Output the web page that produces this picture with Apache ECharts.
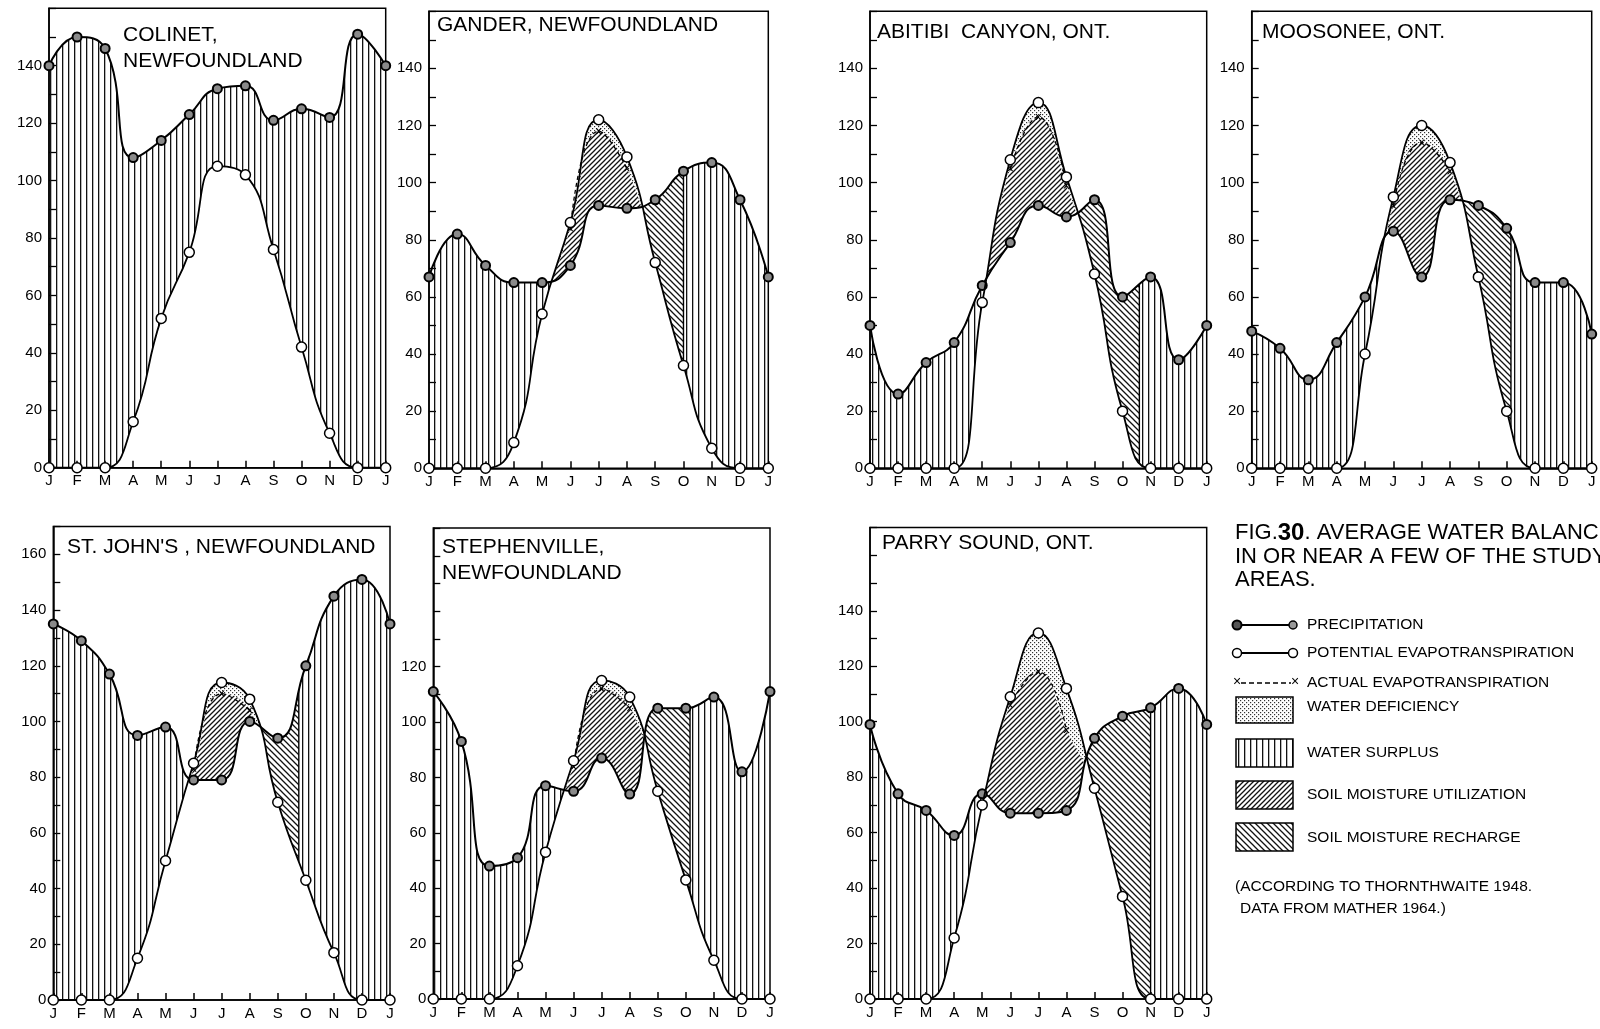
<!DOCTYPE html>
<html><head><meta charset="utf-8">
<script src="https://cdn.jsdelivr.net/npm/echarts@6/dist/echarts.min.js"></script>
<style>html,body{margin:0;padding:0;background:#fff}#c{width:1600px;height:1029px}</style>
</head><body><div id="c"></div>
<script>
const months = ['J','F','M','A','M','J','J','A','S','O','N','D','J'];

// Precipitation (P), potential evapotranspiration (PE), actual evapotranspiration (AE, only where below PE), mm
const colinetP  = [140,150,146,108,114,123,132,133,121,125,122,151,140];
const colinetPE = [0,0,0,16,52,75,105,102,76,42,12,0,0];
const colinetAE = [null,null,null,null,null,null,null,null,null,null,null,null,null];

const ganderP  = [67,82,71,65,65,71,92,91,94,104,107,94,67];
const ganderPE = [0,0,0,9,54,86,122,109,72,36,7,0,0];
const ganderAE = [null,null,null,null,null,84,118,105,null,null,null,null,null];

const abitibiP  = [50,26,37,44,64,79,92,88,94,60,67,38,50];
const abitibiPE = [0,0,0,0,58,108,128,102,68,20,0,0,0];
const abitibiAE = [null,null,null,null,null,105,123,99,null,null,null,null,null];

const moosoneeP  = [48,42,31,44,60,83,67,94,92,84,65,65,47];
const moosoneePE = [0,0,0,0,40,95,120,107,67,20,0,0,0];
const moosoneeAE = [null,null,null,null,null,92,114,104,null,null,null,null,null];

const stjohnsP  = [135,129,117,95,98,79,79,100,94,120,145,151,135];
const stjohnsPE = [0,0,0,15,50,85,114,108,71,43,17,0,0];
const stjohnsAE = [null,null,null,null,null,83,110,104,null,null,null,null,null];

const stephP  = [111,93,48,51,77,75,87,74,105,105,109,82,111];
const stephPE = [0,0,0,12,53,86,115,109,75,43,14,0,0];
const stephAE = [null,null,null,null,null,84,112,105,null,null,null,null,null];

const parryP  = [99,74,68,59,74,67,67,68,94,102,105,112,99];
const parryPE = [0,0,0,22,70,109,132,112,76,37,0,0,0];
const parryAE = [null,null,null,null,null,106,118,97,null,null,null,null,null];

// soil moisture recharge period (month positions: start, end where soil is full)
const ganderRecharge   = [7, 9];
const abitibiRecharge  = [7, 9.6];
const moosoneeRecharge = [7, 9.15];
const stjohnsRecharge  = [7, 8.75];
const stephRecharge    = [7, 9.15];
const parryRecharge    = [7, 10];

const stations = [
  {name:'COLINET,\nNEWFOUNDLAND', P:colinetP, PE:colinetPE, AE:colinetAE, recharge:null, yMax:160, labelMax:140},
  {name:'GANDER, NEWFOUNDLAND', P:ganderP, PE:ganderPE, AE:ganderAE, recharge:ganderRecharge, yMax:160, labelMax:140},
  {name:'ABITIBI  CANYON, ONT.', P:abitibiP, PE:abitibiPE, AE:abitibiAE, recharge:abitibiRecharge, yMax:160, labelMax:140},
  {name:'MOOSONEE, ONT.', P:moosoneeP, PE:moosoneePE, AE:moosoneeAE, recharge:moosoneeRecharge, yMax:160, labelMax:140},
  {name:"ST. JOHN'S , NEWFOUNDLAND", P:stjohnsP, PE:stjohnsPE, AE:stjohnsAE, recharge:stjohnsRecharge, yMax:170, labelMax:160},
  {name:'STEPHENVILLE,\nNEWFOUNDLAND', P:stephP, PE:stephPE, AE:stephAE, recharge:stephRecharge, yMax:170, labelMax:120},
  {name:'PARRY SOUND, ONT.', P:parryP, PE:parryPE, AE:parryAE, recharge:parryRecharge, yMax:170, labelMax:140}
];

const layout = [
  {left:49, top:8.3, width:336.7, height:459.4, tx:123, ty:22},
  {left:429, top:11.2, width:339.3, height:457.1, tx:437, ty:12},
  {left:870, top:11.2, width:336.7, height:457.1, tx:877, ty:19},
  {left:1251.7, top:11.2, width:340, height:457.1, tx:1262, ty:19},
  {left:53.3, top:526.5, width:336.7, height:473.5, tx:67, ty:534},
  {left:433.3, top:528.1, width:336.7, height:470.9, tx:442, ty:534},
  {left:870, top:527.6, width:336.7, height:471.4, tx:882, ty:530}
];

const FONT = 'Liberation Sans';

function makePattern(kind) {
  const c = document.createElement('canvas');
  let s;
  if (kind === 'surplus') {
    s = 6; c.width = s; c.height = s;
    const g = c.getContext('2d'); g.fillStyle = '#111'; g.fillRect(2, 0, 1.3, s);
  } else if (kind === 'util' || kind === 'recharge') {
    s = kind === 'util' ? 5 : 6; c.width = s; c.height = s;
    const g = c.getContext('2d'); g.strokeStyle = '#111'; g.lineWidth = 1.3; g.beginPath();
    if (kind === 'util') {
      g.moveTo(0, s); g.lineTo(s, 0); g.moveTo(-1, 1); g.lineTo(1, -1); g.moveTo(s - 1, s + 1); g.lineTo(s + 1, s - 1);
    } else {
      g.moveTo(0, 0); g.lineTo(s, s); g.moveTo(-1, s - 1); g.lineTo(1, s + 1); g.moveTo(s - 1, -1); g.lineTo(s + 1, 1);
    }
    g.stroke();
  } else {
    s = 4; c.width = s; c.height = s;
    const g = c.getContext('2d'); g.fillStyle = '#333';
    g.fillRect(0, 0, 1.2, 1.2); g.fillRect(2, 2, 1.2, 1.2);
  }
  return {image: c, repeat: 'repeat'};
}
const PAT = {surplus: makePattern('surplus'), util: makePattern('util'), recharge: makePattern('recharge'), deficit: makePattern('deficit')};

// replicate ECharts smooth line (smooth = 0.5) to get area boundaries
function smoothSegs(pts, smooth) {
  const segs = [];
  let cpx0, cpy0, prevX, prevY;
  const n = pts.length;
  for (let idx = 0; idx < n; idx++) {
    const x = pts[idx][0], y = pts[idx][1];
    if (idx === 0) { cpx0 = x; cpy0 = y; }
    else {
      let cpx1, cpy1, nextCpx0, nextCpy0;
      if (idx === n - 1) { cpx1 = x; cpy1 = y; }
      else {
        const nextX = pts[idx + 1][0], nextY = pts[idx + 1][1];
        let vx = nextX - prevX, vy = nextY - prevY;
        const dx0 = x - prevX, dx1 = nextX - x, dy0 = y - prevY, dy1 = nextY - y;
        const lenPrev = Math.sqrt(dx0 * dx0 + dy0 * dy0), lenNext = Math.sqrt(dx1 * dx1 + dy1 * dy1);
        const ratio = lenNext / (lenNext + lenPrev);
        nextCpx0 = x + vx * smooth * ratio;
        nextCpy0 = y + vy * smooth * ratio;
        nextCpx0 = Math.min(nextCpx0, Math.max(nextX, x));
        nextCpy0 = Math.min(nextCpy0, Math.max(nextY, y));
        nextCpx0 = Math.max(nextCpx0, Math.min(nextX, x));
        nextCpy0 = Math.max(nextCpy0, Math.min(nextY, y));
        vx = nextCpx0 - x; vy = nextCpy0 - y;
        cpx1 = x - vx * lenPrev / lenNext;
        cpy1 = y - vy * lenPrev / lenNext;
        cpx1 = Math.min(cpx1, Math.max(prevX, x));
        cpy1 = Math.min(cpy1, Math.max(prevY, y));
        cpx1 = Math.max(cpx1, Math.min(prevX, x));
        cpy1 = Math.max(cpy1, Math.min(prevY, y));
        vx = x - cpx1; vy = y - cpy1;
        nextCpx0 = x + vx * lenNext / lenPrev;
        nextCpy0 = y + vy * lenNext / lenPrev;
      }
      segs.push([[prevX, prevY], [cpx0, cpy0], [cpx1, cpy1], [x, y]]);
      cpx0 = nextCpx0; cpy0 = nextCpy0;
    }
    prevX = x; prevY = y;
  }
  return segs;
}
function sampleCurve(pts) {
  const out = [pts[0]];
  smoothSegs(pts, 0.5).forEach(function (sg) {
    const p0 = sg[0], c0 = sg[1], c1 = sg[2], p1 = sg[3];
    for (let k = 1; k <= 40; k++) {
      const t = k / 40, u = 1 - t;
      out.push([u*u*u*p0[0] + 3*u*u*t*c0[0] + 3*u*t*t*c1[0] + t*t*t*p1[0],
                u*u*u*p0[1] + 3*u*u*t*c0[1] + 3*u*t*t*c1[1] + t*t*t*p1[1]]);
    }
  });
  return out;
}
function yAt(poly, x) {
  let lo = 0, hi = poly.length - 1;
  if (x <= poly[0][0]) return poly[0][1];
  if (x >= poly[hi][0]) return poly[hi][1];
  while (hi - lo > 1) { const m = (lo + hi) >> 1; if (poly[m][0] <= x) lo = m; else hi = m; }
  const a = poly[lo], b = poly[hi], dx = b[0] - a[0];
  return dx <= 1e-9 ? a[1] : a[1] + (b[1] - a[1]) * (x - a[0]) / dx;
}

function makeRender(st) {
  return function (params, api) {
    const pP = st.P.map(function (v, i) { return api.coord([i, v]); });
    const pE = st.PE.map(function (v, i) { return api.coord([i, v]); });
    const pA = st.AE.map(function (v, i) { return api.coord([i, v == null ? st.PE[i] : v]); });
    const cP = sampleCurve(pP), cE = sampleCurve(pE), cA = sampleCurve(pA);
    const yP = function (x) { return yAt(cP, x); };
    const yE = function (x) { return yAt(cE, x); };
    const yA = function (x) { return yAt(cA, x); };
    const xAt = function (m) {
      const i = Math.min(11, Math.floor(m)), f = m - i;
      return pP[i][0] + (pP[i + 1][0] - pP[i][0]) * f;
    };
    const X0 = pP[0][0], X1 = pP[12][0];
    const children = [];
    function band(a, b, top, bot, fill) {
      const n = Math.max(2, Math.ceil((b - a) / 0.6));
      const T = [], B = [];
      for (let k = 0; k <= n; k++) {
        const x = a + (b - a) * k / n;
        T.push([x, top(x)]); B.push([x, bot(x)]);
      }
      children.push({type: 'polygon', silent: true, shape: {points: T.concat(B.reverse())}, style: {fill: fill, stroke: null}});
    }
    const surTop = yP, surBot = function (x) { return Math.max(yP(x), yE(x)); };
    if (st.recharge) {
      const rs = xAt(st.recharge[0]), re = xAt(st.recharge[1]);
      band(X0, rs, surTop, surBot, PAT.surplus);
      band(rs, re, surTop, surBot, PAT.recharge);
      band(re, X1, surTop, surBot, PAT.surplus);
      children.push({type: 'line', silent: true, shape: {x1: re, y1: yE(re), x2: re, y2: yP(re)}, style: {stroke: '#000', lineWidth: 1.4}});
    } else {
      band(X0, X1, surTop, surBot, PAT.surplus);
    }
    band(X0, X1, function (x) { return Math.min(yP(x), Math.max(yA(x), yE(x))); }, yP, PAT.util);
    band(X0, X1, function (x) { return Math.min(yE(x), yA(x), yP(x)); }, function (x) { return Math.min(yA(x), yP(x)); }, PAT.deficit);
    return {type: 'group', children: children};
  };
}

const grids = [], xAxes = [], yAxes = [], series = [], titles = [];
stations.forEach(function (st, g) {
  const L = layout[g];
  grids.push({left: L.left, top: L.top, width: L.width, height: L.height, show: true, borderColor: '#000', borderWidth: 1.5, backgroundColor: 'transparent'});
  xAxes.push({gridIndex: g, type: 'value', min: 0, max: 12, interval: 1,
    axisLine: {show: true, lineStyle: {color: '#000', width: 1.5}},
    axisTick: {show: true, inside: true, length: 7, lineStyle: {color: '#000', width: 1.5}},
    axisLabel: {formatter: function (v) { return months[v] || ''; }, color: '#000', fontSize: 15, margin: 6, fontFamily: FONT},
    splitLine: {show: false}});
  yAxes.push({gridIndex: g, type: 'value', min: 0, max: st.yMax, interval: 10,
    axisLine: {show: true, lineStyle: {color: '#000', width: 1.5}},
    axisTick: {show: true, inside: true, length: 7, lineStyle: {color: '#000', width: 1.3}},
    axisLabel: {formatter: function (v) { return (v % 20 === 0 && v <= st.labelMax) ? String(v) : ''; }, color: '#000', fontSize: 15, margin: 7, fontFamily: FONT},
    splitLine: {show: false}});
  titles.push({text: st.name, left: L.tx, top: L.ty, padding: 0,
    textStyle: {fontSize: 21, fontWeight: 'normal', color: '#000', fontFamily: FONT, lineHeight: 26}});
  series.push({type: 'custom', xAxisIndex: g, yAxisIndex: g, data: [[0, 0]], renderItem: makeRender(st), z: 1, silent: true, clip: false});
  series.push({type: 'line', name: 'AE', xAxisIndex: g, yAxisIndex: g, z: 2, smooth: true, clip: false, silent: true,
    data: st.AE.map(function (v, i) { return [i, v]; }),
    symbol: 'path://M0,0L2,0L5,3L8,0L10,0L6,5L10,10L8,10L5,7L2,10L0,10L4,5Z', symbolSize: 6,
    itemStyle: {color: '#000'}, lineStyle: {color: '#000', width: 1.3, type: [4, 3]}, emphasis: {disabled: true}});
  series.push({type: 'line', name: 'P', xAxisIndex: g, yAxisIndex: g, z: 3, smooth: true, clip: false, silent: true,
    data: st.P.map(function (v, i) { return [i, v]; }), showSymbol: true,
    symbol: 'circle', symbolSize: 9, itemStyle: {color: '#8a8a8a', borderColor: '#000', borderWidth: 2},
    lineStyle: {color: '#000', width: 2}, emphasis: {disabled: true}});
  series.push({type: 'line', name: 'PE', xAxisIndex: g, yAxisIndex: g, z: 4, smooth: true, clip: false, silent: true,
    data: st.PE.map(function (v, i) { return [i, v]; }), showSymbol: true,
    symbol: 'circle', symbolSize: 10, itemStyle: {color: '#fff', borderColor: '#000', borderWidth: 1.5},
    lineStyle: {color: '#000', width: 1.8}, emphasis: {disabled: true}});
});

const lx0 = 1237, lx1 = 1293, tx = 1307;
const tf = {fontSize: 15.5, fontFamily: FONT, fill: '#000', verticalAlign: 'middle', align: 'left'};
function txt(x, y, s, extra) { return {type: 'text', x: x, y: y, silent: true, style: Object.assign({text: s}, tf, extra || {})}; }
const graphic = [
  {type: 'text', x: 1235, y: 533, silent: true, style: {text: '{a|FIG.}{b|30}{a|. AVERAGE WATER BALANCE}', verticalAlign: 'middle', fill: '#000',
    rich: {a: {fontSize: 22, fontFamily: FONT, fill: '#000'}, b: {fontSize: 24, fontWeight: 'bold', fontFamily: FONT, fill: '#000'}}}},
  txt(1235, 557, 'IN OR NEAR A FEW OF THE STUDY', {fontSize: 22}),
  txt(1235, 580, 'AREAS.', {fontSize: 22}),
  {type: 'line', silent: true, shape: {x1: lx0, y1: 625, x2: lx1, y2: 625}, style: {stroke: '#000', lineWidth: 1.8}},
  {type: 'circle', silent: true, shape: {cx: lx0, cy: 625, r: 4.5}, style: {fill: '#555', stroke: '#000', lineWidth: 2}},
  {type: 'circle', silent: true, shape: {cx: lx1, cy: 625, r: 4}, style: {fill: '#999', stroke: '#000', lineWidth: 1.5}},
  txt(tx, 625, 'PRECIPITATION'),
  {type: 'line', silent: true, shape: {x1: lx0, y1: 653, x2: lx1, y2: 653}, style: {stroke: '#000', lineWidth: 1.8}},
  {type: 'circle', silent: true, shape: {cx: lx0, cy: 653, r: 4.5}, style: {fill: '#fff', stroke: '#000', lineWidth: 1.5}},
  {type: 'circle', silent: true, shape: {cx: lx1, cy: 653, r: 4.5}, style: {fill: '#fff', stroke: '#000', lineWidth: 1.5}},
  txt(tx, 653, 'POTENTIAL EVAPOTRANSPIRATION'),
  {type: 'line', silent: true, shape: {x1: lx0 + 4, y1: 683, x2: lx1 - 2, y2: 683}, style: {stroke: '#000', lineWidth: 1.5, lineDash: [5, 3]}},
  txt(lx0 - 4, 682, '×', {fontSize: 14}),
  txt(lx1 - 2, 682, '×', {fontSize: 14}),
  txt(tx, 683, 'ACTUAL EVAPOTRANSPIRATION'),
  {type: 'rect', silent: true, shape: {x: 1236, y: 697, width: 57, height: 26}, style: {fill: PAT.deficit, stroke: '#000', lineWidth: 1.5}},
  txt(tx, 707, 'WATER DEFICIENCY'),
  {type: 'rect', silent: true, shape: {x: 1236, y: 739, width: 57, height: 28}, style: {fill: PAT.surplus, stroke: '#000', lineWidth: 1.5}},
  txt(tx, 753, 'WATER SURPLUS'),
  {type: 'rect', silent: true, shape: {x: 1236, y: 781, width: 57, height: 28}, style: {fill: PAT.util, stroke: '#000', lineWidth: 1.5}},
  txt(tx, 795, 'SOIL MOISTURE UTILIZATION'),
  {type: 'rect', silent: true, shape: {x: 1236, y: 823, width: 57, height: 28}, style: {fill: PAT.recharge, stroke: '#000', lineWidth: 1.5}},
  txt(tx, 838, 'SOIL MOISTURE RECHARGE'),
  txt(1235, 887, '(ACCORDING TO THORNTHWAITE 1948.'),
  txt(1240, 909, 'DATA FROM MATHER 1964.)')
];

const chart = echarts.init(document.getElementById('c'), null, {renderer: 'canvas', width: 1600, height: 1029});
chart.setOption({
  animation: false,
  backgroundColor: '#fff',
  textStyle: {fontFamily: FONT},
  title: titles,
  grid: grids,
  xAxis: xAxes,
  yAxis: yAxes,
  series: series,
  graphic: graphic
});
</script></body></html>
